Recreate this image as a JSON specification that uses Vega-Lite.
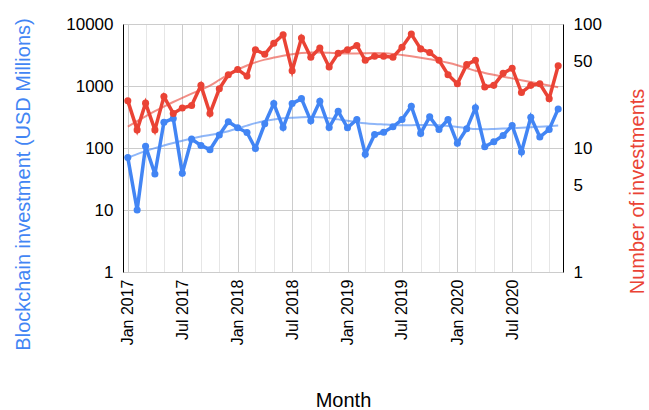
{
  "$schema": "https://vega.github.io/schema/vega-lite/v6.json",
  "autosize": "none",
  "width": 440,
  "height": 248,
  "padding": {"left": 123, "top": 24, "right": 86, "bottom": 138},
  "background": "white",
  "config": {
    "view": {"stroke": null},
    "font": "Liberation Sans",
    "axis": {
      "labelFont": "Liberation Sans",
      "titleFont": "Liberation Sans",
      "labelColor": "#000000",
      "labelFontSize": 17,
      "titleFontSize": 20,
      "titleFontWeight": "normal",
      "ticks": false,
      "gridColor": "#cccccc",
      "gridWidth": 1
    }
  },
  "data": {
    "format": {"parse": {"date": "date"}},
    "values": [
      {"date": "2017-01-01", "investment": 70, "count": 24},
      {"date": "2017-02-01", "investment": 10, "count": 14},
      {"date": "2017-03-01", "investment": 107, "count": 23},
      {"date": "2017-04-01", "investment": 38, "count": 14},
      {"date": "2017-05-01", "investment": 260, "count": 26},
      {"date": "2017-06-01", "investment": 300, "count": 19},
      {"date": "2017-07-01", "investment": 39, "count": 21},
      {"date": "2017-08-01", "investment": 139, "count": 22},
      {"date": "2017-09-01", "investment": 110, "count": 32},
      {"date": "2017-10-01", "investment": 94, "count": 19},
      {"date": "2017-11-01", "investment": 162, "count": 30},
      {"date": "2017-12-01", "investment": 265, "count": 39},
      {"date": "2018-01-01", "investment": 212, "count": 43},
      {"date": "2018-02-01", "investment": 178, "count": 38},
      {"date": "2018-03-01", "investment": 98, "count": 62},
      {"date": "2018-04-01", "investment": 246, "count": 57},
      {"date": "2018-05-01", "investment": 520, "count": 70},
      {"date": "2018-06-01", "investment": 214, "count": 82},
      {"date": "2018-07-01", "investment": 520, "count": 42},
      {"date": "2018-08-01", "investment": 625, "count": 77},
      {"date": "2018-09-01", "investment": 274, "count": 54},
      {"date": "2018-10-01", "investment": 566, "count": 64},
      {"date": "2018-11-01", "investment": 214, "count": 45},
      {"date": "2018-12-01", "investment": 391, "count": 58},
      {"date": "2019-01-01", "investment": 212, "count": 62},
      {"date": "2019-02-01", "investment": 288, "count": 67},
      {"date": "2019-03-01", "investment": 79, "count": 51},
      {"date": "2019-04-01", "investment": 165, "count": 55},
      {"date": "2019-05-01", "investment": 180, "count": 55},
      {"date": "2019-06-01", "investment": 220, "count": 54},
      {"date": "2019-07-01", "investment": 288, "count": 65},
      {"date": "2019-08-01", "investment": 471, "count": 83},
      {"date": "2019-09-01", "investment": 172, "count": 63},
      {"date": "2019-10-01", "investment": 318, "count": 59},
      {"date": "2019-11-01", "investment": 199, "count": 51},
      {"date": "2019-12-01", "investment": 288, "count": 39},
      {"date": "2020-01-01", "investment": 119, "count": 33},
      {"date": "2020-02-01", "investment": 204, "count": 47},
      {"date": "2020-03-01", "investment": 444, "count": 51},
      {"date": "2020-04-01", "investment": 105, "count": 31},
      {"date": "2020-05-01", "investment": 126, "count": 32},
      {"date": "2020-06-01", "investment": 159, "count": 40},
      {"date": "2020-07-01", "investment": 231, "count": 44},
      {"date": "2020-08-01", "investment": 86, "count": 28},
      {"date": "2020-09-01", "investment": 313, "count": 32},
      {"date": "2020-10-01", "investment": 150, "count": 33},
      {"date": "2020-11-01", "investment": 199, "count": 25},
      {"date": "2020-12-01", "investment": 427, "count": 46}
    ]
  },
  "encoding": {
    "x": {
      "field": "date",
      "type": "temporal",
      "scale": {
        "type": "utc",
        "domain": [
          {"year": 2016, "month": 12, "date": 16, "utc": true},
          {"year": 2020, "month": 12, "date": 17, "utc": true}
        ],
        "nice": false
      },
      "axis": {
        "title": "Month",
        "titleColor": "#000000",
        "titleY": 134,
        "titleBaseline": "alphabetic",
        "domain": false,
        "labelAngle": -90,
        "labelFontSize": 16,
        "labelPadding": 7,
        "labelOverlap": false,
        "labelFlush": false,
        "gridColor": {
          "condition": {"test": "utcmonth(datum.value) % 6 === 0", "value": "#cccccc"},
          "value": "#e6e6e6"
        },
        "values": [
          {"year": 2017, "month": 1, "date": 1, "utc": true},
          {"year": 2017, "month": 3, "date": 1, "utc": true},
          {"year": 2017, "month": 5, "date": 1, "utc": true},
          {"year": 2017, "month": 7, "date": 1, "utc": true},
          {"year": 2017, "month": 9, "date": 1, "utc": true},
          {"year": 2017, "month": 11, "date": 1, "utc": true},
          {"year": 2018, "month": 1, "date": 1, "utc": true},
          {"year": 2018, "month": 3, "date": 1, "utc": true},
          {"year": 2018, "month": 5, "date": 1, "utc": true},
          {"year": 2018, "month": 7, "date": 1, "utc": true},
          {"year": 2018, "month": 9, "date": 1, "utc": true},
          {"year": 2018, "month": 11, "date": 1, "utc": true},
          {"year": 2019, "month": 1, "date": 1, "utc": true},
          {"year": 2019, "month": 3, "date": 1, "utc": true},
          {"year": 2019, "month": 5, "date": 1, "utc": true},
          {"year": 2019, "month": 7, "date": 1, "utc": true},
          {"year": 2019, "month": 9, "date": 1, "utc": true},
          {"year": 2019, "month": 11, "date": 1, "utc": true},
          {"year": 2020, "month": 1, "date": 1, "utc": true},
          {"year": 2020, "month": 3, "date": 1, "utc": true},
          {"year": 2020, "month": 5, "date": 1, "utc": true},
          {"year": 2020, "month": 7, "date": 1, "utc": true},
          {"year": 2020, "month": 9, "date": 1, "utc": true},
          {"year": 2020, "month": 11, "date": 1, "utc": true}
        ],
        "labelExpr": "utcmonth(datum.value) % 6 === 0 ? utcFormat(datum.value, '%b %Y') : ''"
      }
    }
  },
  "layer": [
    {
      "encoding": {
        "y": {
          "field": "investment",
          "type": "quantitative",
          "scale": {"type": "log", "domain": [1, 10000], "nice": false},
          "axis": {
            "orient": "left",
            "title": "Blockchain investment (USD Millions)",
            "titleColor": "#4285F4",
            "titleAngle": -90,
            "titleAlign": "center",
            "titleBaseline": "middle",
            "titleX": -100,
            "titleY": 160,
            "values": [1, 10, 100, 1000, 10000],
            "format": "d",
            "labelPadding": 10,
            "domainColor": "#000000",
            "grid": true
          }
        }
      },
      "layer": [
        {
          "transform": [{"loess": "investment", "on": "date", "bandwidth": 0.4}],
          "mark": {"type": "line", "color": "#4285F4", "opacity": 0.6, "strokeWidth": 2, "interpolate": "monotone"}
        },
        {
          "mark": {
            "type": "line",
            "color": "#4285F4",
            "strokeWidth": 3.5,
            "point": {"filled": true, "size": 50, "color": "#4285F4"}
          }
        }
      ]
    },
    {
      "encoding": {
        "y": {
          "field": "count",
          "type": "quantitative",
          "scale": {"type": "log", "domain": [1, 100], "nice": false},
          "axis": {
            "orient": "right",
            "title": "Number of investments",
            "titleColor": "#EA4335",
            "titleAngle": -90,
            "titleAlign": "center",
            "titleBaseline": "middle",
            "titleX": 74,
            "titleY": 167,
            "values": [1, 5, 10, 50, 100],
            "format": "d",
            "labelPadding": 10,
            "domainColor": "#000000",
            "grid": false
          }
        }
      },
      "layer": [
        {
          "transform": [{"loess": "count", "on": "date", "bandwidth": 0.4}],
          "mark": {"type": "line", "color": "#EA4335", "opacity": 0.6, "strokeWidth": 2, "interpolate": "monotone"}
        },
        {
          "mark": {
            "type": "line",
            "color": "#EA4335",
            "strokeWidth": 3.5,
            "point": {"filled": true, "size": 50, "color": "#EA4335"}
          }
        }
      ]
    }
  ],
  "resolve": {"scale": {"y": "independent"}}
}
